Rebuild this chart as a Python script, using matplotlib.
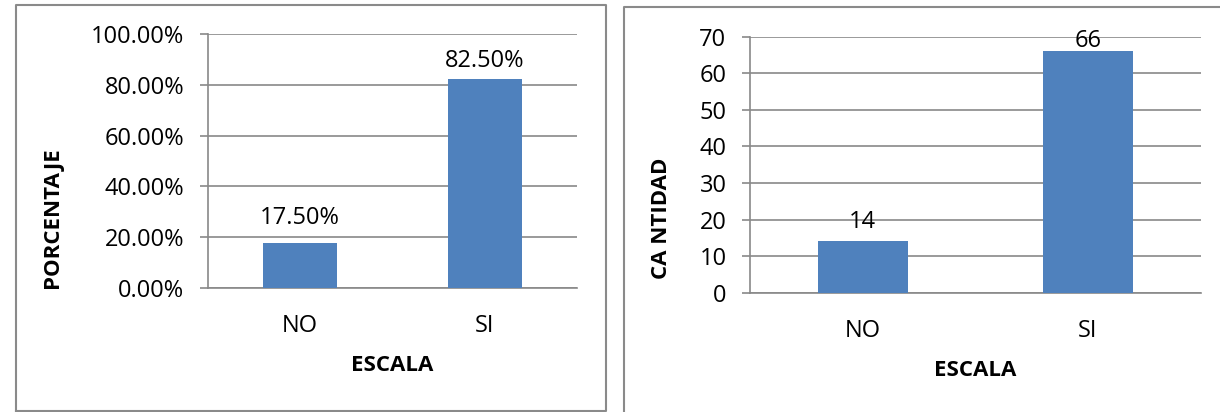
import numpy as np
import matplotlib
matplotlib.use('Agg')
import matplotlib.pyplot as plt
from matplotlib.lines import Line2D
from matplotlib.ticker import FuncFormatter, MultipleLocator

plt.rcParams['font.family'] = ['Open Sans', 'DejaVu Sans']

# Data
categories = ['NO', 'SI']
porcentaje = [17.5, 82.5]          # [%]
cantidad = [14, 66]                # respondents
pct_labels = ['17.50%', '82.50%']
cnt_labels = ['14', '66']

BAR = '#4F81BD'
GRID = '#898989'
FS = 17

fig = plt.figure(figsize=(12.2, 4.12), dpi=100)


def style_axes(ax, ymax, step):
    ax.set_ylim(0, ymax)
    ax.set_xlim(-0.5, 1.5)
    ax.yaxis.set_major_locator(MultipleLocator(step))
    ax.grid(axis='y', color=GRID, lw=1.2)
    ax.set_axisbelow(True)
    for s in ['top', 'right']:
        ax.spines[s].set_visible(False)
    for s in ['left', 'bottom']:
        ax.spines[s].set_color(GRID)
        ax.spines[s].set_linewidth(1.2)
    ax.tick_params(axis='y', length=6, width=1.2, color=GRID, pad=11, labelsize=FS)
    ax.tick_params(axis='x', length=0, pad=19, labelsize=FS)


# Left chart: percentage
ax1 = fig.add_axes([0.1702, 0.3015, 0.3030, 0.6153])
x = np.arange(len(categories))
ax1.bar(x, porcentaje, width=0.4, color=BAR, zorder=3)
style_axes(ax1, 100, 20)
ax1.yaxis.set_major_formatter(FuncFormatter(lambda v, p: '{:.2f}%'.format(v)))
ax1.set_xticks(x)
ax1.set_xticklabels(categories)
for xi, v, lab, off in zip(x, porcentaje, pct_labels, [13.7, 8.6]):
    ax1.annotate(lab, (xi, v), xytext=(0, off), textcoords='offset points',
                 ha='center', va='baseline', fontsize=FS)
ax1.annotate('ESCALA', (0.5, 0), xycoords='axes fraction', xytext=(0, -56),
             textcoords='offset points', ha='center', va='center',
             fontsize=FS - 1, fontweight='bold')
fig.text(52.5 / 1220, 1 - 218 / 412, 'PORCENTAJE', rotation=90, ha='center',
         va='center', fontsize=FS - 1, fontweight='bold')

# Right chart: count
ax2 = fig.add_axes([0.6148, 0.2896, 0.3694, 0.6214])
ax2.bar(x, cantidad, width=0.4, color=BAR, zorder=3)
style_axes(ax2, 70, 10)
ax2.set_xticks(x)
ax2.set_xticklabels(categories)
for xi, v, lab, off in zip(x, cantidad, cnt_labels, [9.4, 2.9]):
    ax2.annotate(lab, (xi, v), xytext=(0, off), textcoords='offset points',
                 ha='center', va='baseline', fontsize=FS)
ax2.annotate('ESCALA', (0.5, 0), xycoords='axes fraction', xytext=(0, -56),
             textcoords='offset points', ha='center', va='center',
             fontsize=FS - 1, fontweight='bold')
fig.text(661.5 / 1220, 1 - 218 / 412, 'CA NTIDAD', rotation=90, ha='center',
         va='center', fontsize=FS - 1, fontweight='bold')

# Chart borders
bc = '#8a8a8a'
x0, x1, y0, y1 = 15.7 / 1220, 606 / 1220, 1 - 410.5 / 412, 1 - 5 / 412
fig.add_artist(Line2D([x0, x1, x1, x0, x0], [y0, y0, y1, y1, y0], color=bc, lw=1.5))
xr, yr = 624 / 1220, 1 - 6.7 / 412
fig.add_artist(Line2D([xr, xr, 1.0], [0.0, yr, yr], color=bc, lw=1.5))

fig.savefig('out.png', dpi=100)
